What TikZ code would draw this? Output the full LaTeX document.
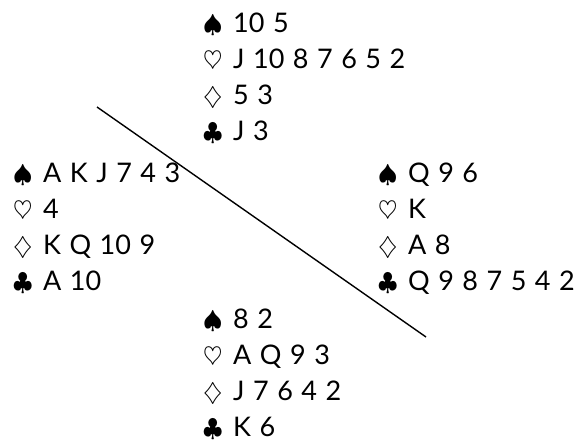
\documentclass[tikz,border=0pt]{standalone}
\usepackage{fontspec}
\setmainfont{Lato}
\newcommand{\suitbox}[1]{\makebox[30pt][l]{\fontsize{33}{33}\selectfont$#1$}}
\newcommand{\cardfont}{\fontsize{27}{30}\selectfont}
\tikzset{
  card/.style={anchor=base west, inner sep=0pt, font=\cardfont,
    execute at begin node={\spaceskip=8.5pt plus 1pt\relax}},
  divider/.style={line width=1.4pt, black}
}
\begin{document}
\begin{tikzpicture}[x=1pt,y=-1pt]
\useasboundingbox[fill=white] (0,0) rectangle (585,442);
% North
\node[card] (n1) at (203,32)  {\suitbox{\spadesuit}10 5};
\node[card] (n2) at (203,68)  {\suitbox{\heartsuit}J 10 8 7 6 5 2};
\node[card] (n3) at (203,104) {\suitbox{\diamondsuit}5 3};
\node[card] (n4) at (203,140) {\suitbox{\clubsuit}J 3};
% West
\node[card] (w1) at (13,182) {\suitbox{\spadesuit}A K J 7 4 3};
\node[card] (w2) at (13,218) {\suitbox{\heartsuit}4};
\node[card] (w3) at (13,254) {\suitbox{\diamondsuit}K Q 10 9};
\node[card] (w4) at (13,290) {\suitbox{\clubsuit}A 10};
% East
\node[card] (e1) at (378,182) {\suitbox{\spadesuit}Q 9 6};
\node[card] (e2) at (378,218) {\suitbox{\heartsuit}K};
\node[card] (e3) at (378,254) {\suitbox{\diamondsuit}A 8};
\node[card] (e4) at (378,290) {\suitbox{\clubsuit}Q 9 8 7 5 4 2};
% South
\node[card] (s1) at (203,328) {\suitbox{\spadesuit}8 2};
\node[card] (s2) at (203,364) {\suitbox{\heartsuit}A Q 9 3};
\node[card] (s3) at (203,400) {\suitbox{\diamondsuit}J 7 6 4 2};
\node[card] (s4) at (203,436) {\suitbox{\clubsuit}K 6};
% divider
\coordinate (la) at (97,107);
\coordinate (lb) at (426,337);
\draw[divider] (la) -- (lb);
\end{tikzpicture}
\end{document}
